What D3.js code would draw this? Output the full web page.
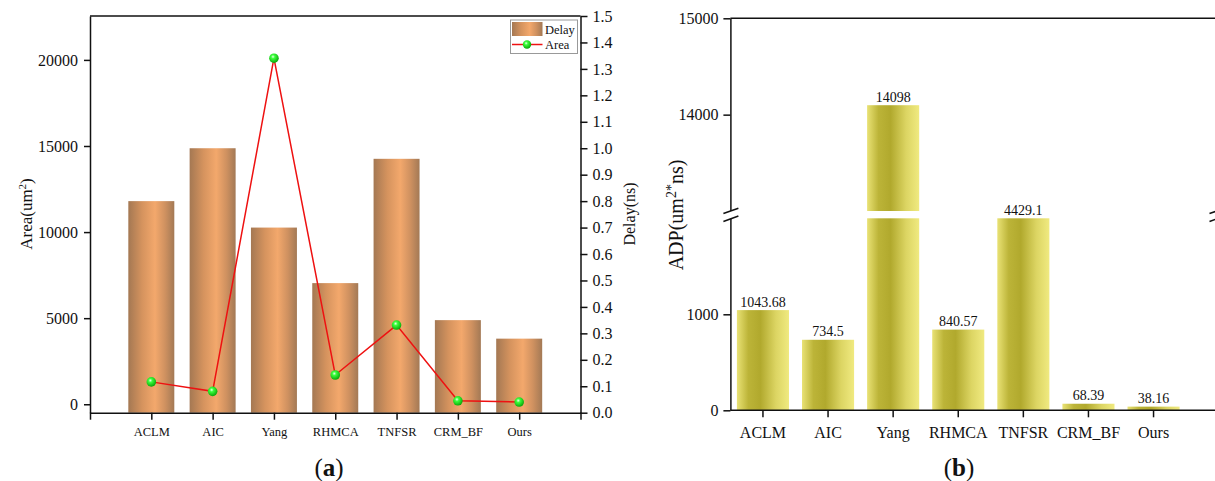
<!DOCTYPE html>
<html lang="en">
<head>
    <meta charset="UTF-8">
    <title>Area / Delay / ADP comparison</title>
    <script src="https://d3js.org/d3.v7.min.js"></script>
    <style>
        body { margin: 0; background: #fff; }
        svg text { font-family: "Liberation Serif", "Times New Roman", serif; fill: #111; }
        .axis path, .axis line { stroke: #111; stroke-width: 1.5; }
    </style>
</head>
<body>
    <svg id="chart" width="1215" height="481"></svg>
    <script>
        // Data
        const categories = ["ACLM", "AIC", "Yang", "RHMCA", "TNFSR", "CRM_BF", "Ours"];
        const delayValues = [0.80, 1.00, 0.70, 0.49, 0.96, 0.35, 0.28];   // ns (bars, right axis)
        const areaValues = [1300, 750, 20100, 1700, 4600, 200, 130];      // um^2 (line, left axis)
        const adpValues = [1043.68, 734.5, 14098, 840.57, 4429.1, 68.39, 38.16];
        const areaTicks = [0, 5000, 10000, 15000, 20000];
        const adpLowTicks = [0, 1000];
        const adpHighTicks = [14000, 15000];

        const svg = d3.select("#chart");
        const defs = svg.append("defs");

        // brown cylinder-look gradient for delay bars
        const gBrown = defs.append("linearGradient").attr("id", "brown");
        [["0%", "#a47853"], ["30%", "#d5935e"], ["58%", "#f3a86c"], ["80%", "#cf9160"], ["100%", "#a37955"]]
            .forEach(s => gBrown.append("stop").attr("offset", s[0]).attr("stop-color", s[1]));

        // olive/yellow gradient for ADP bars
        const gYel = defs.append("linearGradient").attr("id", "yellow");
        [["0%", "#e9e275"], ["22%", "#bcb438"], ["45%", "#b1a92d"], ["75%", "#dcd563"], ["100%", "#f0ea80"]]
            .forEach(s => gYel.append("stop").attr("offset", s[0]).attr("stop-color", s[1]));

        // green ball marker
        const gBall = defs.append("radialGradient").attr("id", "ball")
            .attr("cx", "40%").attr("cy", "35%").attr("r", "65%");
        [["0%", "#eaffea"], ["30%", "#3cff3c"], ["100%", "#0aa80a"]]
            .forEach(s => gBall.append("stop").attr("offset", s[0]).attr("stop-color", s[1]));

        const intFmt = d3.format("d");

        // ---------------- Panel (a) ----------------
        const a = { left: 90, right: 580.5, top: 16, bottom: 412.7 };

        const xA = d3.scaleLinear().domain([0, categories.length + 1]).range([a.left, a.right]);
        const yArea = d3.scaleLinear().domain([-490, 22550]).range([a.bottom, a.top]);
        const yDelay = d3.scaleLinear().domain([0, 1.5]).range([a.bottom, a.top]);
        const barW = xA(0.75) - xA(0);

        const pa = svg.append("g");

        pa.selectAll(".dbar")
            .data(delayValues)
            .enter()
            .append("rect")
            .attr("class", "dbar")
            .attr("x", (d, i) => xA(i + 1) - barW / 2)
            .attr("width", barW)
            .attr("y", d => yDelay(d))
            .attr("height", d => yDelay(0) - yDelay(d))
            .attr("fill", "url(#brown)");

        const line = d3.line()
            .x((d, i) => xA(i + 1))
            .y(d => yArea(d));

        pa.append("path")
            .datum(areaValues)
            .attr("d", line)
            .attr("fill", "none")
            .attr("stroke", "#ee1111")
            .attr("stroke-width", 1.5);

        pa.selectAll(".dot")
            .data(areaValues)
            .enter()
            .append("circle")
            .attr("cx", (d, i) => xA(i + 1))
            .attr("cy", d => yArea(d))
            .attr("r", 4.8)
            .attr("fill", "url(#ball)");

        // frame top
        pa.append("line")
            .attr("x1", a.left).attr("x2", a.right)
            .attr("y1", a.top).attr("y2", a.top)
            .attr("stroke", "#111").attr("stroke-width", 1.5);

        // left axis
        pa.append("g")
            .attr("class", "axis")
            .attr("transform", `translate(${a.left},0)`)
            .call(d3.axisLeft(yArea).tickValues(areaTicks).tickFormat(intFmt).tickSize(6).tickSizeOuter(0).tickPadding(6))
            .call(g => g.selectAll("text").style("font-size", "16px"));

        // right axis
        pa.append("g")
            .attr("class", "axis")
            .attr("transform", `translate(${a.right},0)`)
            .call(d3.axisRight(yDelay).ticks(15).tickFormat(d3.format(".1f")).tickSize(7).tickSizeOuter(0).tickPadding(5))
            .call(g => g.selectAll("text").style("font-size", "16px"));

        // bottom axis
        const xAxisA = pa.append("g")
            .attr("class", "axis")
            .attr("transform", `translate(0,${a.bottom})`)
            .call(d3.axisBottom(xA)
                .tickValues(d3.range(0, categories.length + 2))
                .tickFormat(d => categories[d - 1] || "")
                .tickSize(7).tickSizeOuter(0).tickPadding(7));
        xAxisA.selectAll("text").style("font-size", "12.5px");

        pa.append("text")
            .attr("transform", "translate(32,214) rotate(-90)")
            .attr("text-anchor", "middle")
            .style("font-size", "17px")
            .html('Area(um<tspan baseline-shift="super" style="font-size:11px">2</tspan>)');

        pa.append("text")
            .attr("transform", "translate(635,214) rotate(-90)")
            .attr("text-anchor", "middle")
            .style("font-size", "16px")
            .text("Delay(ns)");

        // legend
        const leg = pa.append("g");
        leg.append("rect")
            .attr("x", 510.5).attr("y", 20).attr("width", 67).attr("height", 33.5)
            .attr("fill", "#fff").attr("stroke", "#999").attr("stroke-width", 1);
        leg.append("rect")
            .attr("x", 512).attr("y", 22).attr("width", 30.5).attr("height", 14)
            .attr("fill", "url(#brown)");
        leg.append("text").attr("x", 545).attr("y", 33.5).style("font-size", "12.5px").text("Delay");
        leg.append("line")
            .attr("x1", 512).attr("x2", 542.5).attr("y1", 44.5).attr("y2", 44.5)
            .attr("stroke", "#ee1111").attr("stroke-width", 1.5);
        leg.append("circle").attr("cx", 527).attr("cy", 44.5).attr("r", 4.2).attr("fill", "url(#ball)");
        leg.append("text").attr("x", 545).attr("y", 49).style("font-size", "12.5px").text("Area");

        pa.append("text")
            .attr("x", 329).attr("y", 476)
            .attr("text-anchor", "middle")
            .style("font-size", "25px")
            .html('(<tspan font-weight="bold">a</tspan>)');

        // ---------------- Panel (b) ----------------
        const b = { left: 730.4, right: 1217, top: 18.3, bottom: 410.3 };
        const step = 65.1;

        const xB = d3.scaleBand()
            .domain(categories)
            .range([b.left, b.left + step * categories.length])
            .paddingInner(0.2)
            .paddingOuter(0.1);

        const yLow = d3.scaleLinear().domain([0, 2000]).range([b.bottom, 218.3]);
        const yHigh = d3.scaleLinear().domain([13000, 15000]).range([211, b.top]);

        const pb = svg.append("g");

        const bars = pb.selectAll(".abar")
            .data(adpValues)
            .enter()
            .append("g");

        bars.append("rect")
            .attr("x", (d, i) => xB(categories[i]))
            .attr("width", xB.bandwidth())
            .attr("y", d => yLow(Math.min(d, 2000)))
            .attr("height", d => yLow(0) - yLow(Math.min(d, 2000)))
            .attr("fill", "url(#yellow)");

        bars.filter(d => d > 13000)
            .append("rect")
            .attr("x", d => xB(categories[adpValues.indexOf(d)]))
            .attr("width", xB.bandwidth())
            .attr("y", d => yHigh(d))
            .attr("height", d => yHigh(13000) - yHigh(d))
            .attr("fill", "url(#yellow)");

        bars.append("text")
            .attr("x", (d, i) => xB(categories[i]) + xB.bandwidth() / 2)
            .attr("y", d => (d > 13000 ? yHigh(d) : yLow(Math.min(d, 2000))) - 3.5)
            .attr("text-anchor", "middle")
            .style("font-size", "14px")
            .text(d => String(d));

        // frame top and right
        pb.append("line")
            .attr("x1", b.left).attr("x2", b.right)
            .attr("y1", b.top).attr("y2", b.top)
            .attr("stroke", "#111").attr("stroke-width", 1.5);
        pb.append("line")
            .attr("x1", b.right).attr("x2", b.right)
            .attr("y1", b.top).attr("y2", b.bottom)
            .attr("stroke", "#111").attr("stroke-width", 1.5);

        // left axis, lower and upper segments
        pb.append("g")
            .attr("class", "axis")
            .attr("transform", `translate(${b.left},0)`)
            .call(d3.axisLeft(yLow).tickValues(adpLowTicks).tickFormat(intFmt).tickSize(7).tickSizeOuter(0).tickPadding(5))
            .call(g => g.selectAll("text").style("font-size", "16px"));

        pb.append("g")
            .attr("class", "axis")
            .attr("transform", `translate(${b.left},0)`)
            .call(d3.axisLeft(yHigh).tickValues(adpHighTicks).tickFormat(intFmt).tickSize(7).tickSizeOuter(0).tickPadding(5))
            .call(g => g.selectAll("text").style("font-size", "16px"));

        // axis break marks
        function breakMark(cx) {
            const gBr = pb.append("g");
            gBr.append("polygon")
                .attr("points", `${cx - 7.5},${213.5} ${cx + 7.5},${208.3} ${cx + 7.5},${216} ${cx - 7.5},${221.5}`)
                .attr("fill", "#fff");
            gBr.append("line")
                .attr("x1", cx - 7.5).attr("y1", 213.5).attr("x2", cx + 7.5).attr("y2", 208.3)
                .attr("stroke", "#111").attr("stroke-width", 1.5);
            gBr.append("line")
                .attr("x1", cx - 7.5).attr("y1", 221.5).attr("x2", cx + 7.5).attr("y2", 216)
                .attr("stroke", "#111").attr("stroke-width", 1.5);
        }
        breakMark(b.left + 0.5);
        breakMark(b.right);

        // bottom axis
        const xAxisB = pb.append("g")
            .attr("class", "axis")
            .attr("transform", `translate(0,${b.bottom})`)
            .call(d3.axisBottom(xB).tickSize(7).tickSizeOuter(0).tickPadding(9));
        xAxisB.select(".domain").attr("d", `M${b.left},0H${b.right}`);
        xAxisB.selectAll("text").style("font-size", "16px");

        pb.append("text")
            .attr("transform", "translate(683,215) rotate(-90)")
            .attr("text-anchor", "middle")
            .style("font-size", "20px")
            .html('ADP(um<tspan baseline-shift="super" style="font-size:14px">2</tspan><tspan baseline-shift="super" style="font-size:14px">*</tspan>ns)');

        pb.append("text")
            .attr("x", 959).attr("y", 476)
            .attr("text-anchor", "middle")
            .style("font-size", "25px")
            .html('(<tspan font-weight="bold">b</tspan>)');
    </script>
</body>
</html>
